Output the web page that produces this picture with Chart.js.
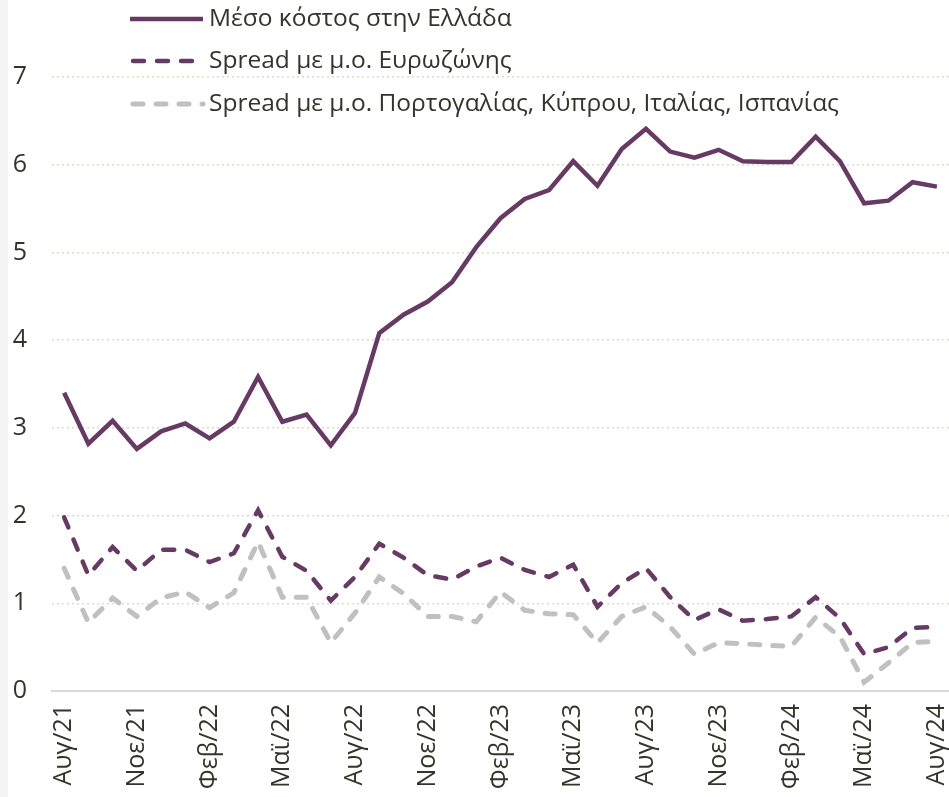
<!DOCTYPE html>
<html>
<head>
<meta charset="utf-8">
<script src="https://cdn.jsdelivr.net/npm/chart.js@4.4.0/dist/chart.umd.min.js"></script>
<style>
  html, body { margin: 0; padding: 0; background: #fff; }
  #wrap { position: relative; width: 949px; height: 797px; overflow: hidden; }
  #strip { position: absolute; left: 0; top: 0; width: 8px; height: 797px; background: #f3f3f3; }
</style>
</head>
<body>
<div id="wrap">
  <canvas id="c" width="949" height="797"></canvas>
  <div id="strip"></div>
</div>
<script>
const months = [
  'Αυγ/21', 'Σεπ/21', 'Οκτ/21', 'Νοε/21', 'Δεκ/21', 'Ιαν/22', 'Φεβ/22', 'Μαρ/22', 'Απρ/22',
  'Μαϊ/22', 'Ιουν/22', 'Ιουλ/22', 'Αυγ/22', 'Σεπ/22', 'Οκτ/22', 'Νοε/22', 'Δεκ/22', 'Ιαν/23',
  'Φεβ/23', 'Μαρ/23', 'Απρ/23', 'Μαϊ/23', 'Ιουν/23', 'Ιουλ/23', 'Αυγ/23', 'Σεπ/23', 'Οκτ/23',
  'Νοε/23', 'Δεκ/23', 'Ιαν/24', 'Φεβ/24', 'Μαρ/24', 'Απρ/24', 'Μαϊ/24', 'Ιουν/24', 'Ιουλ/24', 'Αυγ/24'
];

const costGreece = [
  3.40, 2.82, 3.08, 2.76, 2.96, 3.05, 2.88, 3.07, 3.58,
  3.07, 3.15, 2.80, 3.17, 4.08, 4.29, 4.44, 4.66, 5.06,
  5.39, 5.61, 5.71, 6.04, 5.76, 6.18, 6.41, 6.15, 6.08,
  6.17, 6.04, 6.03, 6.03, 6.32, 6.04, 5.56, 5.59, 5.80, 5.75
];

const spreadEurozone = [
  1.98, 1.32, 1.64, 1.37, 1.61, 1.61, 1.47, 1.57, 2.06,
  1.53, 1.37, 1.03, 1.30, 1.68, 1.52, 1.32, 1.27, 1.42,
  1.52, 1.38, 1.30, 1.44, 0.96, 1.23, 1.40, 1.07, 0.81,
  0.93, 0.80, 0.82, 0.85, 1.07, 0.83, 0.42, 0.50, 0.72, 0.73
];

const spreadSouth = [
  1.40, 0.78, 1.06, 0.85, 1.06, 1.13, 0.95, 1.12, 1.70,
  1.07, 1.07, 0.55, 0.89, 1.30, 1.11, 0.85, 0.85, 0.79,
  1.13, 0.92, 0.88, 0.87, 0.55, 0.85, 0.96, 0.73, 0.42,
  0.55, 0.54, 0.52, 0.51, 0.84, 0.62, 0.10, 0.32, 0.55, 0.57
];

const seriesNames = [
  'Μέσο κόστος στην Ελλάδα',
  'Spread με μ.ο. Ευρωζώνης',
  'Spread με μ.ο. Πορτογαλίας, Κύπρου, Ιταλίας, Ισπανίας'
];

const yTicks = [0, 1, 2, 3, 4, 5, 6, 7];

const purple = '#673a64';
const grey = '#c0c0c0';
const textColor = '#34342c';
const font = '"Open Sans", "Noto Sans", sans-serif';

// legend drawn as a vertical stack in the top-left, over the plot
const stackLegend = {
  id: 'stackLegend',
  afterDraw(chart) {
    const ctx = chart.ctx;
    const rows = [19, 61, 104];
    ctx.save();
    chart.data.datasets.forEach((ds, i) => {
      const y = rows[i];
      ctx.beginPath();
      ctx.setLineDash(ds.borderDash || []);
      ctx.lineCap = ds.borderDash ? 'round' : 'butt';
      ctx.lineWidth = ds.borderWidth;
      ctx.strokeStyle = ds.borderColor;
      ctx.moveTo(ds.borderDash ? 133 : 130, y);
      ctx.lineTo(203, y);
      ctx.stroke();
      ctx.setLineDash([]);
      ctx.fillStyle = textColor;
      ctx.font = '24.5px ' + font;
      ctx.textBaseline = 'middle';
      ctx.fillText(ds.label, 209, y);
    });
    ctx.restore();
  }
};

new Chart(document.getElementById('c'), {
  type: 'line',
  data: {
    labels: months,
    datasets: [
      {
        label: seriesNames[0],
        data: costGreece,
        borderColor: purple,
        borderWidth: 4.5,
        borderJoinStyle: 'miter',
        pointRadius: 0,
        tension: 0
      },
      {
        label: seriesNames[1],
        data: spreadEurozone,
        borderColor: purple,
        borderWidth: 4.5,
        borderDash: [11, 13],
        borderCapStyle: 'round',
        pointRadius: 0,
        tension: 0
      },
      {
        label: seriesNames[2],
        data: spreadSouth,
        borderColor: grey,
        borderWidth: 5,
        borderDash: [10, 13],
        borderCapStyle: 'round',
        pointRadius: 0,
        tension: 0
      }
    ]
  },
  options: {
    responsive: false,
    animation: false,
    layout: { padding: { top: 77, right: 0, left: 0, bottom: 0 } },
    plugins: {
      legend: { display: false },
      tooltip: { enabled: false }
    },
    scales: {
      x: {
        offset: true,
        grid: { display: false, drawTicks: false },
        border: { display: true, color: '#dcdad6', width: 2 },
        afterFit(scale) {
          scale.height = 106;
          scale.paddingLeft = 0;
          scale.paddingRight = 0;
        },
        ticks: {
          autoSkip: false,
          minRotation: 90,
          maxRotation: 90,
          padding: 13,
          color: textColor,
          font: { family: font, size: 25 },
          callback(value, index) {
            return index % 3 === 0 ? months[index] : null;
          }
        }
      },
      y: {
        min: yTicks[0],
        max: yTicks[yTicks.length - 1],
        afterFit(scale) { scale.width = 52; },
        afterBuildTicks(scale) { scale.ticks = yTicks.map(v => ({ value: v })); },
        grid: {
          drawTicks: false,
          lineWidth: 1.5,
          color(ctx) { return ctx.tick && ctx.tick.value === 0 ? 'rgba(0,0,0,0)' : '#dcdccb'; }
        },
        border: { display: false, dash: [2, 3] },
        ticks: {
          padding: 25,
          color: textColor,
          font: { family: font, size: 25 }
        }
      }
    }
  },
  plugins: [stackLegend]
});
</script>
</body>
</html>
